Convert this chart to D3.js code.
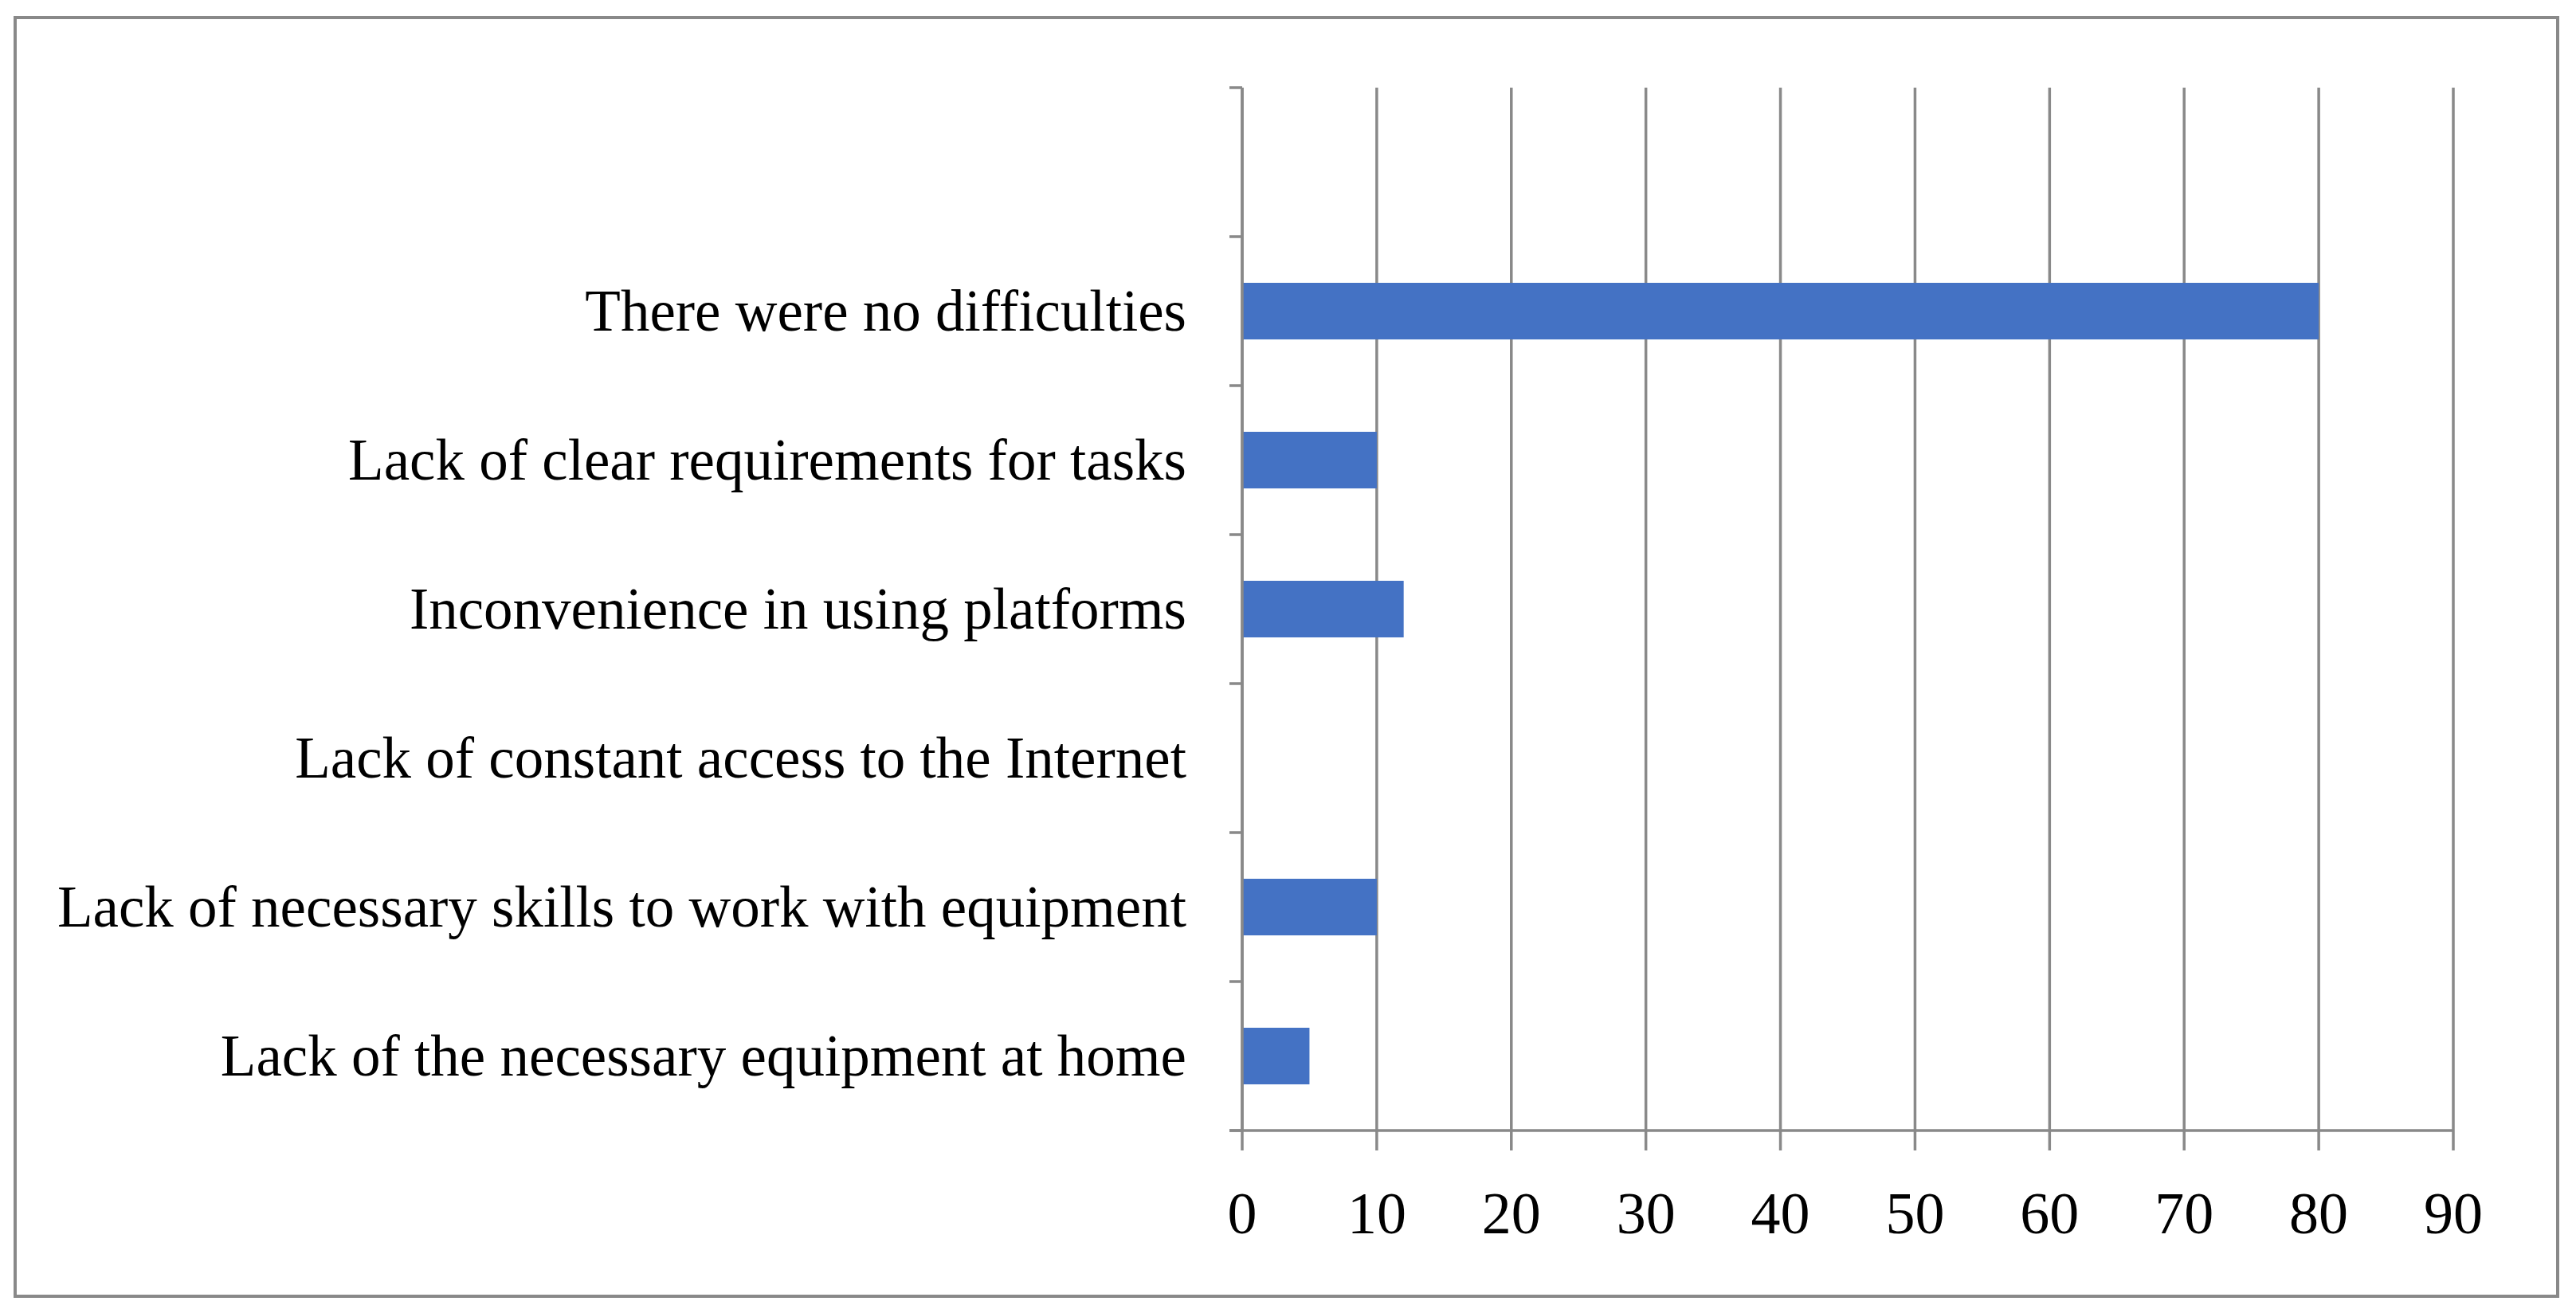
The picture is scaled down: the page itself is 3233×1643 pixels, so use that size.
<!DOCTYPE html>
<html>
<head>
<meta charset="utf-8">
<script src="https://cdn.jsdelivr.net/npm/d3@7"></script>
<style>
  body { margin: 0; background: #fff; }
  svg text { font-family: "Palatino Linotype", "Book Antiqua", Palatino, "Liberation Serif", serif; fill: #000; }
</style>
</head>
<body>
<div id="chart"></div>
<script>
// categories top to bottom, first row is empty in the original
const categories = [
  "",
  "There were no difficulties",
  "Lack of clear requirements for tasks",
  "Inconvenience in using platforms",
  "Lack of constant access to the Internet",
  "Lack of necessary skills to work with equipment",
  "Lack of the necessary equipment at home"
];
const values = [null, 80, 10, 12, 0, 10, 5];
const xTicks = [0, 10, 20, 30, 40, 50, 60, 70, 80, 90];

const W = 3233, H = 1643;
const pLeft = 1559, pRight = 3079, pTop = 110, pBottom = 1419;
const grey = "#898989";

const svg = d3.select("#chart").append("svg")
  .attr("width", W).attr("height", H);

svg.append("rect")
  .attr("x", 19).attr("y", 22)
  .attr("width", 3210 - 19).attr("height", 1627 - 22)
  .attr("fill", "none").attr("stroke", grey).attr("stroke-width", 4);

const x = d3.scaleLinear().domain([0, 90]).range([pLeft, pRight]);
const y = d3.scaleBand().domain(d3.range(categories.length)).range([pTop, pBottom]).paddingInner(0.62).paddingOuter(0.31);

// vertical grid
svg.append("g").selectAll("line")
  .data(xTicks)
  .join("line")
  .attr("x1", d => x(d)).attr("x2", d => x(d))
  .attr("y1", pTop).attr("y2", pBottom + 25)
  .attr("stroke", grey).attr("stroke-width", 3.5);

// bars
svg.append("g").selectAll("rect")
  .data(values.map((v, i) => ({v, i})).filter(d => d.v))
  .join("rect")
  .attr("x", x(0))
  .attr("y", d => y(d.i))
  .attr("width", d => x(d.v) - x(0))
  .attr("height", y.bandwidth())
  .attr("fill", "#4472C4");

// y axis with boundary ticks
const step = (pBottom - pTop) / categories.length;
svg.append("line")
  .attr("x1", pLeft).attr("x2", pLeft).attr("y1", pTop).attr("y2", pBottom)
  .attr("stroke", grey).attr("stroke-width", 3.5);
svg.append("g").selectAll("line")
  .data(d3.range(categories.length + 1))
  .join("line")
  .attr("x1", pLeft - 16).attr("x2", pLeft)
  .attr("y1", i => pTop + i * step).attr("y2", i => pTop + i * step)
  .attr("stroke", grey).attr("stroke-width", 3.5);

// x axis line
svg.append("line")
  .attr("x1", pLeft - 16).attr("x2", pRight).attr("y1", pBottom).attr("y2", pBottom)
  .attr("stroke", grey).attr("stroke-width", 3.5);

// category labels
svg.append("g").selectAll("text")
  .data(categories)
  .join("text")
  .attr("x", 1489)
  .attr("y", (d, i) => pTop + (i + 0.5) * step)
  .attr("dy", "0.33em")
  .attr("text-anchor", "end")
  .attr("font-size", 73)
  .text(d => d);

// tick labels
svg.append("g").selectAll("text")
  .data(xTicks)
  .join("text")
  .attr("x", d => x(d))
  .attr("y", 1548)
  .attr("text-anchor", "middle")
  .attr("font-size", 74)
  .text(d => d);
</script>
</body>
</html>
